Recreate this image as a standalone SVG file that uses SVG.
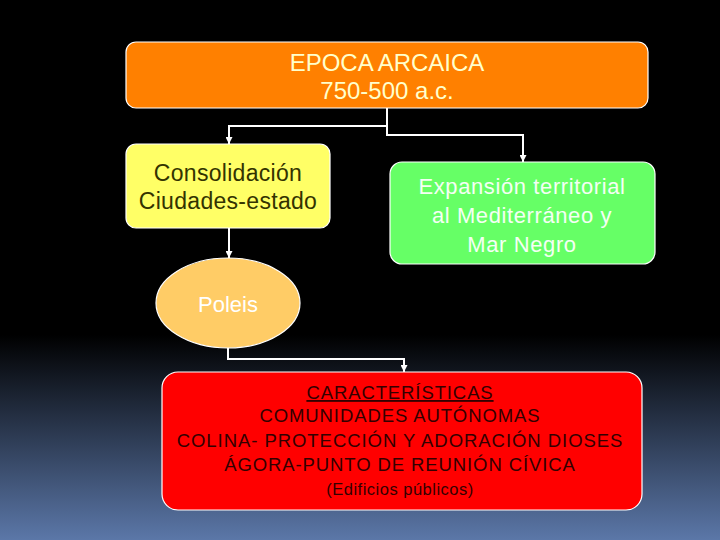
<svg xmlns="http://www.w3.org/2000/svg" width="720" height="540" viewBox="0 0 720 540">
<defs>
<linearGradient id="bg" x1="0" y1="0" x2="0" y2="1">
<stop offset="0" stop-color="#000000"/>
<stop offset="0.62" stop-color="#000000"/>
<stop offset="1" stop-color="#5b77a8"/>
</linearGradient>
<marker id="arr" viewBox="0 0 8 8" refX="8" refY="4" markerWidth="7" markerHeight="7" markerUnits="userSpaceOnUse" orient="auto">
<path d="M0,0 L8,4 L0,8 Z" fill="#ffffff"/>
</marker>
<style>
.box{stroke:#ffffff;stroke-width:1.2}
.t{font-family:"Liberation Sans",Arial,sans-serif;text-anchor:middle}
.conn{fill:none;stroke:#ffffff;stroke-width:2;marker-end:url(#arr)}
</style>
</defs>
<rect x="0" y="0" width="720" height="540" fill="url(#bg)"/>
<g id="connectors">
<path class="conn" d="M387,108 V126 H229 V144"/>
<path class="conn" d="M387,126 V135 H523 V162"/>
<path class="conn" d="M229,228 V258"/>
<path class="conn" d="M228,348 V359 H404 V372"/>
</g>
<g id="epoca">
<rect class="box" x="126" y="42" width="522" height="66" rx="10" fill="#ff8000"/>
<text class="t" x="387" y="71" font-size="24" fill="#ffffcc">EPOCA ARCAICA</text>
<text class="t" x="387" y="99" font-size="24" fill="#ffffcc">750-500 a.c.</text>
</g>
<g id="consolidacion">
<rect class="box" x="126" y="144" width="204" height="84" rx="10" fill="#ffff66"/>
<text class="t" x="228" y="181" font-size="23" letter-spacing="0.3" fill="#333300">Consolidación</text>
<text class="t" x="228" y="209" font-size="23" letter-spacing="0.3" fill="#333300">Ciudades-estado</text>
</g>
<g id="expansion">
<rect class="box" x="390" y="162" width="265" height="102" rx="12" fill="#66ff66"/>
<text class="t" x="522" y="194" font-size="22" letter-spacing="0.6" fill="#f4fff4">Expansión territorial</text>
<text class="t" x="522" y="223" font-size="22" letter-spacing="0.6" fill="#f4fff4">al Mediterráneo y</text>
<text class="t" x="522" y="252" font-size="22" letter-spacing="0.6" fill="#f4fff4">Mar Negro</text>
</g>
<g id="poleis">
<ellipse class="box" cx="228" cy="303" rx="72" ry="45" fill="#ffcc66"/>
<text class="t" x="228" y="312" font-size="22" fill="#ffffff">Poleis</text>
</g>
<g id="caracteristicas">
<rect class="box" x="162" y="372" width="480" height="138" rx="16" fill="#ff0000"/>
<text class="t" x="400" y="399" font-size="18.5" letter-spacing="0.9" fill="#330000" text-decoration="underline">CARACTERÍSTICAS</text>
<text class="t" x="400" y="422" font-size="18.5" letter-spacing="0.9" fill="#330000">COMUNIDADES AUTÓNOMAS</text>
<text class="t" x="400" y="447" font-size="18.5" letter-spacing="0.95" fill="#330000">COLINA- PROTECCIÓN Y ADORACIÓN DIOSES</text>
<text class="t" x="400" y="471" font-size="18.5" letter-spacing="0.9" fill="#330000">ÁGORA-PUNTO DE REUNIÓN CÍVICA</text>
<text class="t" x="400" y="495" font-size="16.5" letter-spacing="0.5" fill="#330000">(Edificios públicos)</text>
</g>
</svg>
